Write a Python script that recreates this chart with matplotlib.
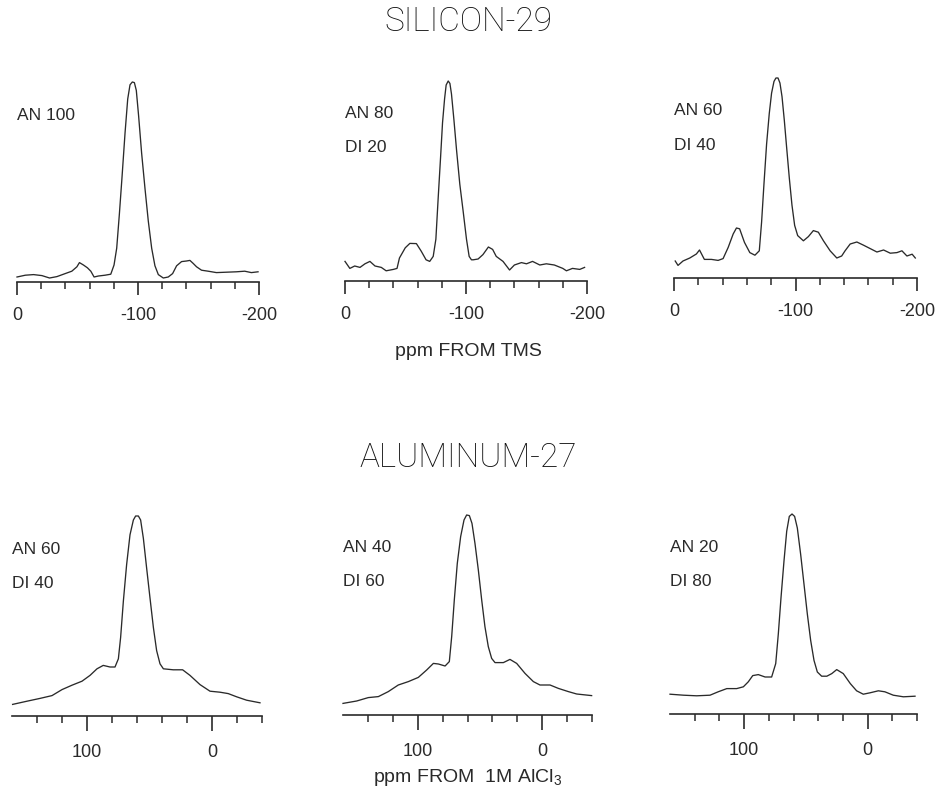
import numpy as np
import matplotlib.pyplot as plt

plt.rcParams['font.family'] = ['Liberation Sans', 'DejaVu Sans']
plt.rcParams['mathtext.fontset'] = 'custom'
plt.rcParams['mathtext.rm'] = 'Liberation Sans'
plt.rcParams['mathtext.it'] = 'Liberation Sans:italic'

INK = '#2a2a2a'

#%% silicon-29 spectra (ppm from TMS, relative intensity)
si1_ppm = [0, -6.9, -13.7, -20.6, -26.9, -33, -39.8, -45.3, -49.5, -51.6, -54.9, -58.2,
           -61, -63.7, -67.3, -72.8, -77.5, -80.2, -82.4, -84.6, -86.8, -89.3, -91.5,
           -93.4, -95.3, -97, -98.6, -100.5, -103, -105.8, -108.5, -111.3, -114, -116.8,
           -120.9, -125, -128.6, -131.9, -136, -140.1, -142.9, -145.6, -148.4, -152.5,
           -158, -164.8, -173, -181.3, -188.2, -193.7, -199.2]
si1_int = [0.025, 0.034, 0.037, 0.032, 0.020, 0.027, 0.042, 0.054, 0.076, 0.097, 0.085,
           0.071, 0.054, 0.025, 0.030, 0.034, 0.039, 0.085, 0.169, 0.339, 0.525, 0.746,
           0.915, 0.986, 1.0, 0.997, 0.958, 0.831, 0.644, 0.466, 0.305, 0.169, 0.081,
           0.037, 0.020, 0.025, 0.042, 0.081, 0.102, 0.105, 0.108, 0.093, 0.076, 0.059,
           0.054, 0.047, 0.049, 0.051, 0.054, 0.047, 0.051]

si2_ppm = [0, -4, -8, -12.4, -16.5, -20.6, -24.8, -30, -34, -40, -43, -45, -49.8, -53.6,
           -59, -63, -67, -70, -72.9, -75.1, -77, -79, -80.6, -82.3, -83.6, -85.3, -86.7,
           -88, -90, -92.2, -94.9, -97.7, -100.4, -102.6, -104.5, -106, -110, -114,
           -118.5, -122, -125, -130.6, -136, -140, -145.8, -150, -155, -161, -166.4, -173,
           -180, -183, -188, -194, -198]
si2_int = [0.098, 0.063, 0.075, 0.068, 0.086, 0.098, 0.075, 0.068, 0.051, 0.058, 0.063,
           0.115, 0.166, 0.188, 0.187, 0.149, 0.106, 0.098, 0.123, 0.209, 0.414, 0.62,
           0.791, 0.911, 0.98, 1.0, 0.988, 0.935, 0.807, 0.654, 0.483, 0.346, 0.209,
           0.123, 0.106, 0.106, 0.11, 0.132, 0.17, 0.158, 0.123, 0.098, 0.055, 0.08,
           0.092, 0.086, 0.098, 0.08, 0.086, 0.08, 0.063, 0.051, 0.063, 0.058, 0.068]

si3_ppm = [-1, -3.3, -7.4, -13, -18.4, -21, -25, -30.8, -36.3, -40.4, -44.6, -48.7, -51.4,
           -54, -58, -62.4, -66.6, -70.2, -72.1, -74, -76.2, -78.4, -80.3, -82.3, -83.9,
           -85.6, -87.2, -88.9, -90.8, -92.7, -94.9, -97.1, -99.3, -101.8, -106.5,
           -110.6, -114.7, -118.8, -123, -128.5, -134, -138, -140.8, -145, -150.5, -156,
           -161.5, -167, -172.5, -178, -183.5, -187.6, -191.7, -196, -198.6]
si3_int = [0.085, 0.063, 0.085, 0.10, 0.12, 0.14, 0.093, 0.093, 0.088, 0.097, 0.153, 0.22,
           0.25, 0.246, 0.178, 0.127, 0.114, 0.136, 0.280, 0.466, 0.669, 0.822, 0.924,
           0.983, 1.0, 1.0, 0.975, 0.907, 0.788, 0.653, 0.5, 0.364, 0.263, 0.212, 0.186,
           0.207, 0.237, 0.229, 0.186, 0.136, 0.10, 0.11, 0.136, 0.17, 0.18, 0.164,
           0.147, 0.13, 0.14, 0.124, 0.127, 0.136, 0.11, 0.119, 0.10]

#%% aluminum-27 spectra (ppm from 1M AlCl3)
al1_ppm = [159.5, 148, 137.6, 128, 120, 112, 104, 97.6, 92, 87, 81.6, 77.6, 74.9, 73.1,
           70.9, 68.3, 65.6, 62.9, 61.1, 58.9, 57.1, 54.9, 52.3, 49.6, 46.9, 44.3, 41.6,
           38.9, 31, 23.5, 17.6, 9.6, 1.6, -6.4, -13, -19.7, -27.7, -38.4]
al1_int = [0.058, 0.074, 0.088, 0.102, 0.132, 0.154, 0.174, 0.203, 0.236, 0.253, 0.245,
           0.245, 0.286, 0.393, 0.575, 0.757, 0.906, 0.98, 1.0, 1.0, 0.98, 0.888, 0.74,
           0.59, 0.443, 0.327, 0.261, 0.236, 0.231, 0.231, 0.203, 0.157, 0.124, 0.119,
           0.112, 0.096, 0.079, 0.066]

al2_ppm = [160, 149, 139.7, 131.6, 123.6, 115.6, 107.5, 99.5, 92.8, 87.4, 83.4, 78, 74.6,
           72.7, 70.6, 68.2, 65.5, 62.8, 60.7, 58.5, 56.4, 54, 51.3, 48.6, 46, 43.3, 40.6,
           37.9, 31.2, 25.9, 20.5, 13.8, 7.1, 1.8, -6.3, -13, -21, -27.7, -39.7]
al2_int = [0.058, 0.07, 0.087, 0.092, 0.117, 0.15, 0.167, 0.188, 0.225, 0.258, 0.255,
           0.245, 0.267, 0.392, 0.575, 0.758, 0.892, 0.975, 1.0, 0.997, 0.958, 0.858,
           0.725, 0.575, 0.442, 0.342, 0.283, 0.262, 0.262, 0.278, 0.258, 0.208, 0.167,
           0.15, 0.15, 0.133, 0.117, 0.105, 0.097]

al3_ppm = [160, 149, 138.4, 127.6, 121, 114, 106, 100.6, 96.6, 93, 88.5, 83, 77.7, 74.4,
           72.3, 70.1, 67.7, 65.5, 63.4, 61.2, 59.1, 56.9, 54.2, 51.5, 48.8, 46.1, 43.4,
           40.7, 37.2, 33, 29, 25, 19.7, 14, 8.9, 3.5, -2, -8.7, -14, -20.8, -29, -38.4]
al3_int = [0.099, 0.094, 0.091, 0.094, 0.111, 0.127, 0.127, 0.136, 0.161, 0.192, 0.197,
           0.185, 0.185, 0.252, 0.4, 0.583, 0.765, 0.914, 0.988, 1.0, 0.988, 0.930,
           0.798, 0.649, 0.5, 0.368, 0.268, 0.21, 0.189, 0.189, 0.202, 0.222, 0.202,
           0.152, 0.116, 0.099, 0.106, 0.116, 0.111, 0.094, 0.086, 0.089]

si_labels = [['AN 100'], ['AN 80', 'DI 20'], ['AN 60', 'DI 40']]
al_labels = [['AN 60', 'DI 40'], ['AN 40', 'DI 60'], ['AN 20', 'DI 80']]

si_major = [0, -100, -200]
si_major_text = ['0', '-100', '-200']
si_minor = [-20, -40, -60, -80, -120, -140, -160, -180]
al_major = [100, 0]
al_major_text = ['100', '0']
al_minor = [140, 120, 80, 60, 40, 20, -20, -40]

#%%
W, H = 936, 792
fig = plt.figure(figsize=(W / 100, H / 100), dpi=100)


def add_panel(left, right, axis_y, ppm, inten, xlim, major, major_text, minor, labels,
              major_len):
    ax = fig.add_axes([left / W, (H - axis_y) / H, (right - left) / W, 200 / H])
    ax.plot(ppm, inten, color=INK, lw=0.95, clip_on=False)
    ax.set_xlim(*xlim)
    ax.set_ylim(0, 1)
    for s in ('top', 'left', 'right'):
        ax.spines[s].set_visible(False)
    ax.spines['bottom'].set_linewidth(1.2)
    ax.spines['bottom'].set_color(INK)
    ax.set_yticks([])
    ax.set_xticks(major)
    ax.set_xticklabels(major_text)
    ax.set_xticks(minor, minor=True)
    ax.tick_params(axis='x', which='major', length=major_len, width=1.2, color=INK,
                   labelsize=13, labelcolor=INK, pad=9)
    ax.tick_params(axis='x', which='minor', length=5, width=1.1, color=INK)
    ax.patch.set_visible(False)
    for i, lab in enumerate(labels):
        ax.text(0, 0.835 - 0.17 * i, lab, transform=ax.transAxes, fontsize=12.5,
                color=INK, ha='left', va='center')
    return ax


add_panel(17, 259, 282, si1_ppm, si1_int, (0, -200), si_major, si_major_text, si_minor,
          si_labels[0], 9)
add_panel(345, 587, 281, si2_ppm, si2_int, (0, -200), si_major, si_major_text, si_minor,
          si_labels[1], 9)
add_panel(674, 917, 278, si3_ppm, si3_int, (0, -200), si_major, si_major_text, si_minor,
          si_labels[2], 9)
add_panel(12, 262, 716, al1_ppm, al1_int, (160, -40), al_major, al_major_text, al_minor,
          al_labels[0], 11)
add_panel(343, 592, 715, al2_ppm, al2_int, (160, -40), al_major, al_major_text, al_minor,
          al_labels[1], 11)
add_panel(670, 917, 714, al3_ppm, al3_int, (160, -40), al_major, al_major_text, al_minor,
          al_labels[2], 11)

title_font = dict(family=['Roboto', 'Liberation Sans'], weight='light', fontsize=24,
                  color='#111111', ha='center', va='center')
fig.text(468 / W, 1 - 22 / H, 'SILICON-29', **title_font)
fig.text(468 / W, 1 - 458 / H, 'ALUMINUM-27', **title_font)
fig.text(468 / W, 1 - 352 / H, 'ppm FROM TMS', ha='center', va='center', fontsize=14,
         color=INK)
fig.text(468 / W, 1 - 778 / H, r'ppm FROM  1M AlCl$_3$', ha='center', va='center',
         fontsize=14, color=INK)

fig.savefig('out.png', dpi=100, facecolor='white')
